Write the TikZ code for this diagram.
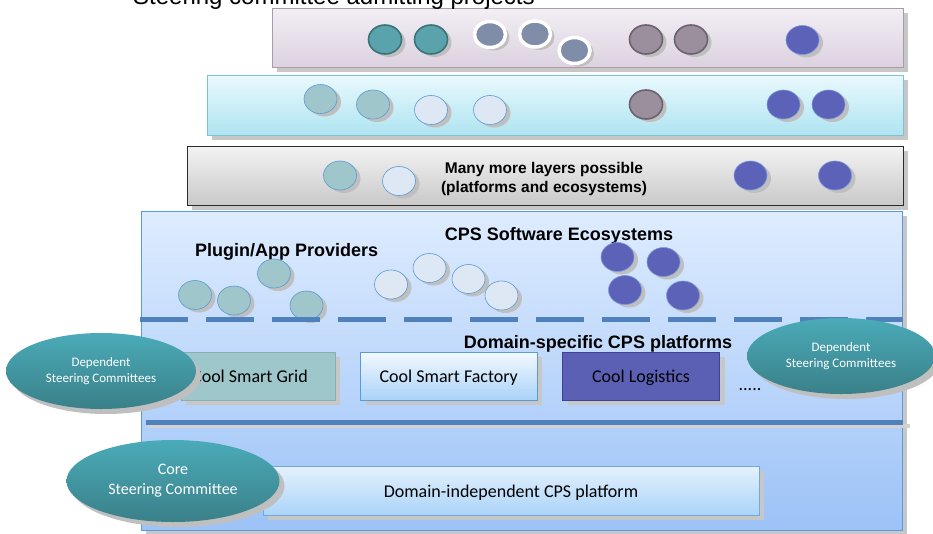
\documentclass[tikz,border=0pt]{standalone}
\usepackage{fontspec}
\setmainfont{Carlito}
\newfontfamily\arialfont{Liberation Sans}
\usetikzlibrary{positioning,shapes.geometric,shadows}

\definecolor{lay1top}{HTML}{F2EFF4}\definecolor{lay1bot}{HTML}{DCD1E0}\definecolor{lay1line}{HTML}{A99BAD}
\definecolor{lay2top}{HTML}{EAF9FD}\definecolor{lay2bot}{HTML}{AEE4F1}\definecolor{lay2line}{HTML}{7DC3CF}
\definecolor{lay3top}{HTML}{F3F3F3}\definecolor{lay3bot}{HTML}{C9C9C9}\definecolor{lay3line}{HTML}{2B2B2B}
\definecolor{ecotop}{HTML}{DEECFF}\definecolor{ecobot}{HTML}{9CC2F7}\definecolor{ecoline}{HTML}{5A9BE0}
\definecolor{sepblue}{HTML}{4F81BD}
\definecolor{tealfill}{HTML}{5AA3AC}\definecolor{tealline}{HTML}{3B7378}
\definecolor{slatefill}{HTML}{7F8DA9}
\definecolor{mauvefill}{HTML}{9C8F9D}\definecolor{mauveline}{HTML}{6C6170}
\definecolor{indigofill}{HTML}{5B62B7}\definecolor{indigoline}{HTML}{7A99DF}
\definecolor{paltealfill}{HTML}{9EC6CB}\definecolor{paleline}{HTML}{5B9BD5}\definecolor{palefill}{HTML}{DEE8F4}
\definecolor{commtop}{HTML}{4AABB8}\definecolor{commbot}{HTML}{3A8089}
\definecolor{gridfill}{HTML}{9EC7CB}\definecolor{gridline}{HTML}{86AEB3}
\definecolor{facttop}{HTML}{F3F9FF}\definecolor{factbot}{HTML}{A9D2F9}
\definecolor{logfill}{HTML}{5B60B5}\definecolor{logline}{HTML}{3E4396}
\definecolor{indtop}{HTML}{E4F1FD}\definecolor{indbot}{HTML}{ABD4F9}\definecolor{indline}{HTML}{72A9DD}

\begin{document}
\begin{tikzpicture}[x=1pt,y=-1pt,inner sep=0pt,
 shadowed/.style={drop shadow={shadow xshift=5pt,shadow yshift=-5pt,fill=black!22,opacity=1}},
 layer/.style={draw,line width=1pt,shadowed},
 proj/.style={ellipse,minimum width=33,minimum height=29,
  drop shadow={shadow xshift=4pt,shadow yshift=-3pt,fill=black!25,opacity=1}},
 teal/.style={proj,fill=tealfill,draw=tealline,line width=1.6pt},
 slate/.style={proj,fill=slatefill,draw=white,line width=3.5pt,minimum width=31,minimum height=26},
 mauve/.style={proj,fill=mauvefill,draw=mauveline,line width=1.6pt},
 indigo/.style={proj,fill=indigofill,draw=indigoline,line width=0.6pt},
 palteal/.style={proj,fill=paltealfill,draw=paleline,line width=0.6pt},
 pale/.style={proj,fill=palefill,draw=paleline,line width=0.6pt},
 comm/.style={ellipse,text=white,top color=commtop,bottom color=commbot,align=center,
  drop shadow={shadow xshift=5pt,shadow yshift=-5pt,fill=black!25,opacity=1}},
 platform/.style={draw,line width=0.8pt,minimum height=48,text height=13,text depth=0,
  shadowed,font=\fontsize{18}{20}\selectfont},
 head/.style={anchor=base,font=\arialfont\bfseries\fontsize{18}{20}\selectfont},
 sep/.style={sepblue,line width=5pt}]
 \useasboundingbox (0,0) rectangle (933,533);

 % layers
 \node[layer,draw=lay1line,top color=lay1top,bottom color=lay1bot,minimum width=631,minimum height=59] (lay_1) at (587.5,37.5) {};
 \node[layer,draw=lay2line,top color=lay2top,bottom color=lay2bot,minimum width=696,minimum height=60] (lay_2) at (555,105) {};
 \node[layer,draw=lay3line,top color=lay3top,bottom color=lay3bot,minimum width=716,minimum height=59] (lay_3) at (545,175.5) {};
 \node[layer,draw=ecoline,top color=ecotop,bottom color=ecobot,minimum width=761,minimum height=319] (eco) at (521.5,370.5) {};

 \node[anchor=base west,font=\arialfont\fontsize{24}{26}\selectfont] (title) at (133,4.5) {Steering committee admitting projects};

 % projects in the layers
 \node[teal] (t_1) at (385,39.5) {}; \node[teal] (t_2) at (431,39.5) {};
 \node[slate] (t_3) at (490,34.5) {}; \node[slate] (t_4) at (535,34) {}; \node[slate] (t_5) at (574.5,50.5) {};
 \node[mauve] (t_6) at (646,39.5) {}; \node[mauve] (t_7) at (691,39.5) {};
 \node[indigo] (t_8) at (802.5,40) {};

 \node[palteal] (c_1) at (320.5,99) {}; \node[palteal] (c_2) at (373,104.5) {};
 \node[pale] (c_3) at (431,110) {}; \node[pale] (c_4) at (490,110) {};
 \node[mauve] (c_5) at (646,104.5) {};
 \node[indigo] (c_6) at (783.5,104.5) {}; \node[indigo] (c_7) at (828.5,104.5) {};

 \node[palteal] (g_1) at (340,175.5) {}; \node[pale] (g_2) at (399,181) {};
 \node[indigo] (g_3) at (750.5,175.5) {}; \node[indigo] (g_4) at (835,175.5) {};
 \node[align=center,font=\arialfont\bfseries\fontsize{15.5}{19.5}\selectfont] (more) at (544,179) {Many more layers possible\\(platforms and ecosystems)};

 % ecosystems
 \node[head] (eco_t) at (559,240.7) {CPS Software Ecosystems};
 \node[head] (plug_t) at (286.6,256.7) {Plugin/App Providers};
 \node[palteal] (e_1) at (195,295) {}; \node[palteal] (e_2) at (234,300.5) {};
 \node[palteal] (e_3) at (274,273.5) {}; \node[palteal] (e_4) at (306.5,305.5) {};
 \node[pale] (l_1) at (391,284.5) {}; \node[pale] (l_2) at (429.5,268) {};
 \node[pale] (l_3) at (468.5,279) {}; \node[pale] (l_4) at (501.5,295.5) {};
 \node[indigo] (b_1) at (617.5,257) {}; \node[indigo] (b_2) at (663.5,262) {};
 \node[indigo] (b_3) at (625,290) {}; \node[indigo] (b_4) at (683,295.5) {};

 \coordinate (d_w) at (140,319.5); \coordinate (d_e) at (903,319.5);
 \draw[sep,dash pattern=on 48pt off 18pt] (d_w) -- (d_e);

 % platforms
 \node[head] (dom_t) at (598,348.3) {Domain-specific CPS platforms};
 \node[platform,draw=gridline,fill=gridfill,minimum width=154] (grid) at (258,376) {Cool Smart Grid\rule{16pt}{0pt}};
 \node[platform,draw=paleline,top color=facttop,bottom color=factbot,minimum width=176.5] (factory) at (448.75,376) {Cool Smart Factory};
 \node[platform,draw=logline,fill=logfill,minimum width=157] (logistics) at (641,376) {Cool Logistics};
 \node[anchor=base,font=\fontsize{18}{20}\selectfont] (more_p) at (750,390) {.....};

 \coordinate (s_w) at (146,422.5); \coordinate (s_e) at (903,422.5);
 \draw[black!18,line width=4pt] ([shift={(2,3)}]s_w) -- ([shift={(7,3)}]s_e);
 \draw[sep] (s_w) -- (s_e);

 \node[platform,draw=indline,top color=indtop,bottom color=indbot,minimum width=496,minimum height=49] (core_p) at (511,490.5) {Domain-independent CPS platform};

 % steering committees
 \node[comm,minimum width=190,minimum height=76,font=\fontsize{13}{16}\selectfont] (dep_l) at (101,371) {Dependent\\Steering Committees};
 \node[comm,minimum width=188,minimum height=76,font=\fontsize{13}{16}\selectfont] (dep_r) at (841,356) {Dependent\\Steering Committees};
 \node[comm,minimum width=213,minimum height=82,font=\fontsize{16}{20}\selectfont] (core) at (173,481) {Core\\Steering Committee};
\end{tikzpicture}
\end{document}
